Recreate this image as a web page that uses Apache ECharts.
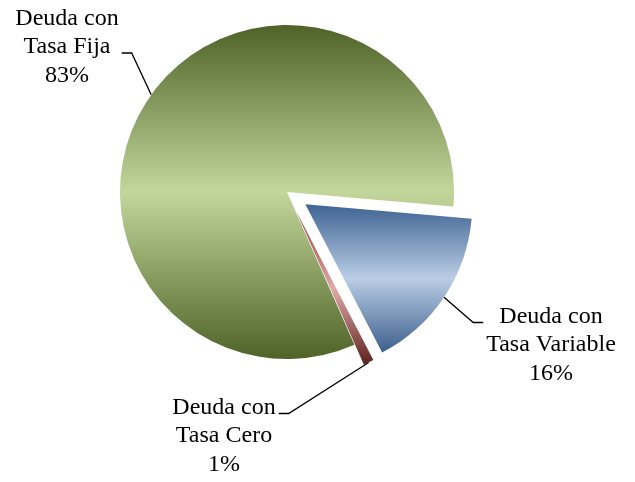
<!DOCTYPE html>
<html>
<head>
<meta charset="utf-8">
<script src="https://cdn.jsdelivr.net/npm/echarts@6/dist/echarts.min.js"></script>
<style>
  html, body { margin: 0; padding: 0; background: #fff; }
  #chart { width: 635px; height: 482px; }
</style>
</head>
<body>
<div id="chart"></div>
<script>
// datos (orden de Excel, empezando justo debajo de las 3 en punto)
var categories = ['Deuda con\nTasa Variable', 'Deuda con\nTasa Cero', 'Deuda con\nTasa Fija'];
var values = [16, 1, 83];
var explode = [22, 22, 0];   // px que se separa cada porción

// degradados: oscuro - claro - oscuro (vertical)
var gradStops = [
    ['#3f6393', '#b9cde5', '#3d5f8d'],
    ['#8e3a38', '#e0a9a7', '#5c2220'],
    ['#4f6228', '#c3d69b', '#4f6228']
];
// centro de cada etiqueta (x, y) y línea de texto donde llega la guía
var labelPos = [[551, 345], [224, 436], [67, 47]];
var guideLine = [0, 0, 1];

var cx = 287, cy = 192, R = 167, startAngle = -5;
var LH = 28.5;

function grad(c) {
    return new echarts.graphic.LinearGradient(0, 0, 0, 1, [
        {offset: 0, color: c[0]},
        {offset: 0.5, color: c[1]},
        {offset: 1, color: c[2]}
    ]);
}

var total = 0;
for (var i = 0; i < values.length; i++) total += values[i];

// una serie por porción, cada una con su centro desplazado
function sliceSeries(k) {
    var cum = 0;
    for (var j = 0; j < k; j++) cum += values[j];
    var mid = (startAngle - 360 * (cum + values[k] / 2) / total) * Math.PI / 180;
    var data = [];
    for (var i = 0; i < values.length; i++) {
        var own = i === k;
        data.push({
            name: categories[i],
            value: values[i],
            itemStyle: {color: own ? grad(gradStops[i]) : 'rgba(0,0,0,0)'},
            label: {show: own},
            labelLine: {show: own}
        });
    }
    return {
        type: 'pie',
        z: 2 + k,
        center: [cx + explode[k] * Math.cos(mid), cy - explode[k] * Math.sin(mid)],
        radius: R,
        startAngle: startAngle,
        clockwise: true,
        percentPrecision: 0,
        avoidLabelOverlap: false,
        silent: true,
        emphasis: {disabled: true},
        label: {
            position: 'outside',
            formatter: '{b}\n{d}%',
            fontFamily: 'Liberation Serif',
            fontSize: 24,
            lineHeight: LH,
            color: '#000'
        },
        labelLine: {
            length: 15,
            length2: 10,
            lineStyle: {color: '#000', width: 1.3}
        },
        labelLayout: function (params) {
            if (params.dataIndex !== k) return;
            var p = labelPos[k];
            var w = params.labelRect.width, h = params.labelRect.height;
            var pts = params.labelLinePoints;
            var right = pts && pts[0][0] > p[0];
            var ax = right ? p[0] + w / 2 + 3 : p[0] - w / 2 - 3;
            var ay = p[1] - h / 2 + LH * (guideLine[k] + 0.5) + 6;
            var res = {x: p[0], y: p[1], align: 'center', verticalAlign: 'middle'};
            if (pts) {
                res.labelLinePoints = [pts[0], [right ? ax + 10 : ax - 10, ay], [ax, ay]];
            }
            return res;
        },
        data: data
    };
}

var myChart = echarts.init(document.getElementById('chart'));
var option = {
    animation: false,
    backgroundColor: '#fff',
    series: [sliceSeries(2), sliceSeries(0), sliceSeries(1)]
};
myChart.setOption(option);
</script>
</body>
</html>
